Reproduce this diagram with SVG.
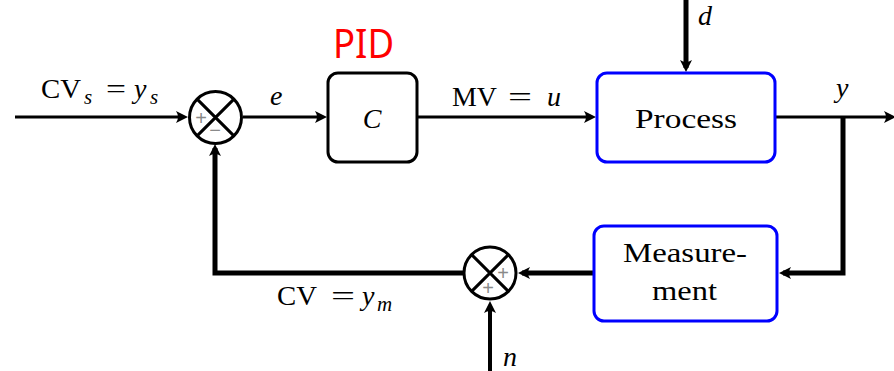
<svg xmlns="http://www.w3.org/2000/svg" width="894" height="371" viewBox="0 0 894 371">
<style>
.ln{fill:none;stroke:#000;stroke-width:3;stroke-linejoin:miter}
.thk{stroke-width:5}
.blk{fill:#fff;stroke:#000;stroke-width:3}
.blu{fill:#fff;stroke:#0000ff;stroke-width:3}
.sum{fill:#fff;stroke:#000;stroke-width:3}
.t{font-family:"Liberation Serif","Times New Roman",serif;font-size:28px;fill:#000}
.i{font-style:italic}
.sg{font-family:"Liberation Sans",Arial,sans-serif;font-size:20px;fill:#8a8a8a}
.pid{font-family:"Noto Sans","Open Sans",sans-serif;font-size:40px;fill:#ff0000}
</style>
<defs>
<marker id="ar" viewBox="-13 -7 14 14" markerWidth="14" markerHeight="14" refX="-4" refY="0" orient="auto" markerUnits="userSpaceOnUse">
<path d="M0,0 L-12,-6 Q-8,0 -12,6 Z" fill="#000"/>
</marker>
</defs>
<g id="connectors">
<path class="ln" d="M15,117 H184" marker-end="url(#ar)"/>
<path class="ln" d="M243,117 H323" marker-end="url(#ar)"/>
<path class="ln" d="M418,117 H592" marker-end="url(#ar)"/>
<path class="ln thk" d="M686,0 V68" marker-end="url(#ar)"/>
<path class="ln" d="M776,117 H892" marker-end="url(#ar)"/>
<path class="ln thk" d="M843,117 V273 H783" marker-end="url(#ar)"/>
<path class="ln thk" d="M593,273 H522" marker-end="url(#ar)"/>
<path class="ln thk" d="M463,273 H215 V148" marker-end="url(#ar)"/>
<path class="ln" style="stroke-width:4" d="M490,371 V305" marker-end="url(#ar)"/>
</g>
<g id="sum1">
<circle class="sum" cx="215.5" cy="117.5" r="26"/>
<path class="ln" d="M197.1,99.1 L233.9,135.9 M233.9,99.1 L197.1,135.9"/>
<text class="sg" x="201" y="125" text-anchor="middle">+</text>
<text class="sg" x="215" y="137" text-anchor="middle">−</text>
</g>
<g id="controller">
<rect class="blk" x="328" y="73" width="89" height="89" rx="10"/>
<text class="t i" x="372" y="128" font-size="30" text-anchor="middle">C</text>
<text class="pid" x="333" y="58" textLength="61" lengthAdjust="spacingAndGlyphs">PID</text>
</g>
<g id="process">
<rect class="blu" x="597" y="73" width="178" height="89" rx="10"/>
<text class="t" x="635" y="128" font-size="29" textLength="102" lengthAdjust="spacingAndGlyphs">Process</text>
</g>
<g id="measurement">
<rect class="blu" x="594" y="226" width="183" height="95" rx="10"/>
<text class="t" x="623" y="262" font-size="29" textLength="124" lengthAdjust="spacingAndGlyphs">Measure-</text>
<text class="t" x="652" y="300" font-size="29" textLength="65" lengthAdjust="spacingAndGlyphs">ment</text>
</g>
<g id="sum2">
<circle class="sum" cx="490" cy="273" r="26"/>
<path class="ln" d="M471.6,254.6 L508.4,291.4 M508.4,254.6 L471.6,291.4"/>
<text class="sg" x="503" y="280" text-anchor="middle">+</text>
<text class="sg" x="488" y="295" text-anchor="middle">+</text>
</g>
<g id="labels">
<text class="t"><tspan x="41" y="98" textLength="40" lengthAdjust="spacingAndGlyphs">CV</tspan><tspan class="i" x="84" y="104" font-size="21">s</tspan><tspan x="106" y="98" textLength="20" lengthAdjust="spacingAndGlyphs">=</tspan><tspan class="i" x="134" y="98">y</tspan><tspan class="i" x="150" y="104" font-size="21">s</tspan></text>
<text class="t i" x="270" y="105">e</text>
<text class="t"><tspan x="452" y="106" textLength="45" lengthAdjust="spacingAndGlyphs">MV</tspan><tspan x="508" y="106" textLength="24" lengthAdjust="spacingAndGlyphs">=</tspan><tspan class="i" x="547" y="106">u</tspan></text>
<text class="t i" x="698" y="25" font-size="27">d</text>
<text class="t i" x="836" y="97">y</text>
<text class="t"><tspan x="277" y="305" textLength="40" lengthAdjust="spacingAndGlyphs">CV</tspan><tspan x="331" y="305" textLength="24" lengthAdjust="spacingAndGlyphs">=</tspan><tspan class="i" x="362" y="305">y</tspan><tspan class="i" x="377" y="311" font-size="21">m</tspan></text>
<text class="t i" x="503" y="366">n</text>
</g>
</svg>
